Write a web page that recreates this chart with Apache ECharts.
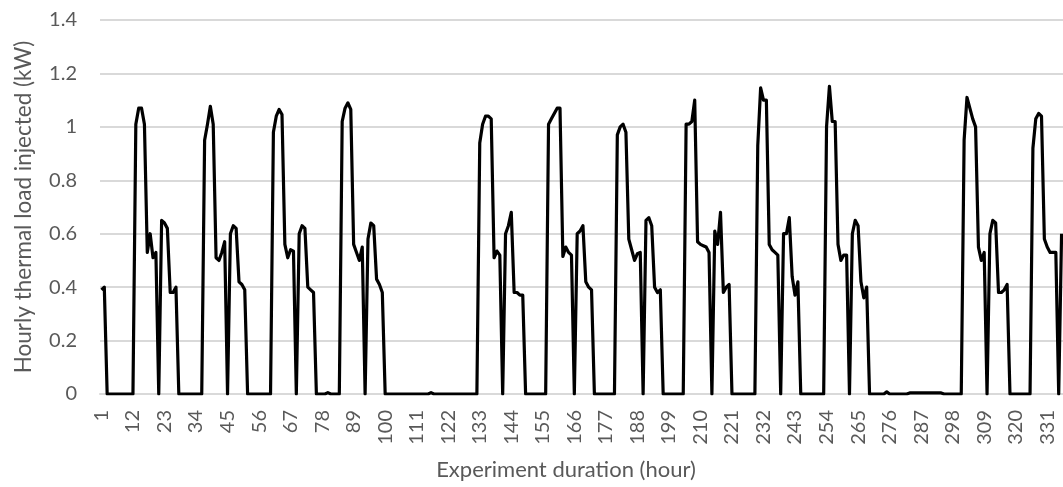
<!DOCTYPE html>
<html>
<head>
<meta charset="utf-8">
<script src="https://cdn.jsdelivr.net/npm/echarts@6/dist/echarts.min.js"></script>
<style>
  html, body { margin: 0; padding: 0; background: #fff; }
  #chart { width: 1063px; height: 487px; }
</style>
</head>
<body>
<div id="chart"></div>
<script>
// hourly thermal load (kW), one array per day of 24 hours
var day01 = [0.39, 0.40, 0, 0, 0, 0, 0, 0, 0, 0, 0, 0, 1.01, 1.07, 1.07, 1.01, 0.53, 0.60, 0.51, 0.53, 0, 0.65, 0.64, 0.62];
var day02 = [0.38, 0.38, 0.40, 0, 0, 0, 0, 0, 0, 0, 0, 0, 0.95, 1.01, 1.077, 1.01, 0.51, 0.50, 0.53, 0.57, 0, 0.60, 0.63, 0.62];
var day03 = [0.42, 0.41, 0.39, 0, 0, 0, 0, 0, 0, 0, 0, 0, 0.98, 1.04, 1.065, 1.046, 0.56, 0.51, 0.54, 0.535, 0, 0.60, 0.63, 0.62];
var day04 = [0.40, 0.39, 0.38, 0, 0, 0, 0, 0.005, 0, 0, 0, 0, 1.02, 1.07, 1.09, 1.065, 0.56, 0.53, 0.50, 0.55, 0, 0.58, 0.64, 0.63];
var day05 = [0.43, 0.41, 0.38, 0, 0, 0, 0, 0, 0, 0, 0, 0, 0, 0, 0, 0, 0, 0, 0, 0.005, 0, 0, 0, 0];
var day06 = [0, 0, 0, 0, 0, 0, 0, 0, 0, 0, 0, 0, 0.94, 1.01, 1.04, 1.04, 1.03, 0.51, 0.535, 0.52, 0, 0.60, 0.63, 0.68];
var day07 = [0.38, 0.38, 0.37, 0.37, 0, 0, 0, 0, 0, 0, 0, 0, 1.01, 1.03, 1.05, 1.07, 1.07, 0.515, 0.55, 0.53, 0.52, 0, 0.60, 0.61];
var day08 = [0.63, 0.42, 0.40, 0.39, 0, 0, 0, 0, 0, 0, 0, 0, 0.97, 1.00, 1.01, 0.98, 0.58, 0.54, 0.50, 0.525, 0.53, 0, 0.65, 0.66];
var day09 = [0.63, 0.40, 0.38, 0.39, 0, 0, 0, 0, 0, 0, 0, 0, 1.01, 1.01, 1.02, 1.10, 0.57, 0.56, 0.555, 0.55, 0.53, 0, 0.61, 0.56];
var day10 = [0.68, 0.38, 0.40, 0.41, 0, 0, 0, 0, 0, 0, 0, 0, 0, 0.93, 1.146, 1.10, 1.10, 0.56, 0.54, 0.53, 0.52, 0, 0.60, 0.60];
var day11 = [0.66, 0.44, 0.37, 0.42, 0, 0, 0, 0, 0, 0, 0, 0, 0, 1.00, 1.152, 1.02, 1.02, 0.56, 0.50, 0.52, 0.52, 0, 0.60, 0.65];
var day12 = [0.63, 0.42, 0.36, 0.40, 0, 0, 0, 0, 0, 0, 0.008, 0, 0, 0, 0, 0, 0, 0, 0.004, 0.004, 0.004, 0.004, 0.004, 0.004];
var day13 = [0.004, 0.004, 0.004, 0.004, 0.004, 0.004, 0, 0, 0, 0, 0, 0, 0, 0.95, 1.11, 1.07, 1.03, 1.00, 0.55, 0.50, 0.53, 0, 0.60, 0.65];
var day14 = [0.64, 0.38, 0.38, 0.39, 0.41, 0, 0, 0, 0, 0, 0, 0, 0, 0.92, 1.03, 1.05, 1.04, 0.58, 0.55, 0.53, 0.53, 0.53, 0, 0.60];

var yTicks = [0, 0.2, 0.4, 0.6, 0.8, 1, 1.2, 1.4];
var xTitle = 'Experiment duration (hour)';
var yTitle = 'Hourly thermal load injected (kW)';

var load = [].concat(day01, day02, day03, day04, day05, day06, day07,
		day08, day09, day10, day11, day12, day13, day14);
// hour categories 1..336
var hours = [];
for (var i = 0; i < load.length; i++) {
	hours.push(String(i + 1));
}

var labelColor = '#595959';
var gridColor = '#d9d9d9';
var fontFamily = 'Lato, "Open Sans", sans-serif';

var myChart = echarts.init(document.getElementById('chart'));
var option = {
	animation : false,
	grid : {
		left : 100,
		right : -3, // the plot runs a little past the picture edge
		top : 20,
		bottom : 93
	},
	xAxis : {
		type : 'category',
		data : hours,
		boundaryGap : true,
		axisLine : {
			show : true,
			lineStyle : { color : gridColor, width : 2 }
		},
		axisTick : { show : false },
		axisLabel : {
			interval : 10,
			rotate : 90,
			margin : 16,
			color : labelColor,
			fontSize : 20,
			fontFamily : fontFamily
		}
	},
	yAxis : {
		type : 'value',
		min : yTicks[0],
		max : yTicks[yTicks.length - 1],
		interval : 0.2,
		name : yTitle,
		nameLocation : 'middle',
		nameGap : 65,
		nameTextStyle : {
			color : labelColor,
			fontSize : 22.5,
			fontFamily : fontFamily
		},
		axisLine : { show : false },
		axisTick : { show : false },
		axisLabel : {
			margin : 23,
			color : labelColor,
			fontSize : 20,
			fontFamily : fontFamily
		},
		splitLine : {
			lineStyle : { color : gridColor, width : 2 }
		}
	},
	graphic : [ {
		type : 'text',
		x : 566,
		y : 470,
		style : {
			text : xTitle,
			align : 'center',
			verticalAlign : 'middle',
			fill : labelColor,
			fontSize : 22,
			fontFamily : fontFamily
		}
	} ],
	series : [ {
		type : 'line',
		data : load,
		showSymbol : false,
		symbol : 'none',
		lineStyle : {
			color : '#000000',
			width : 3.2,
			join : 'round'
		}
	} ]
};
myChart.setOption(option);
</script>
</body>
</html>
